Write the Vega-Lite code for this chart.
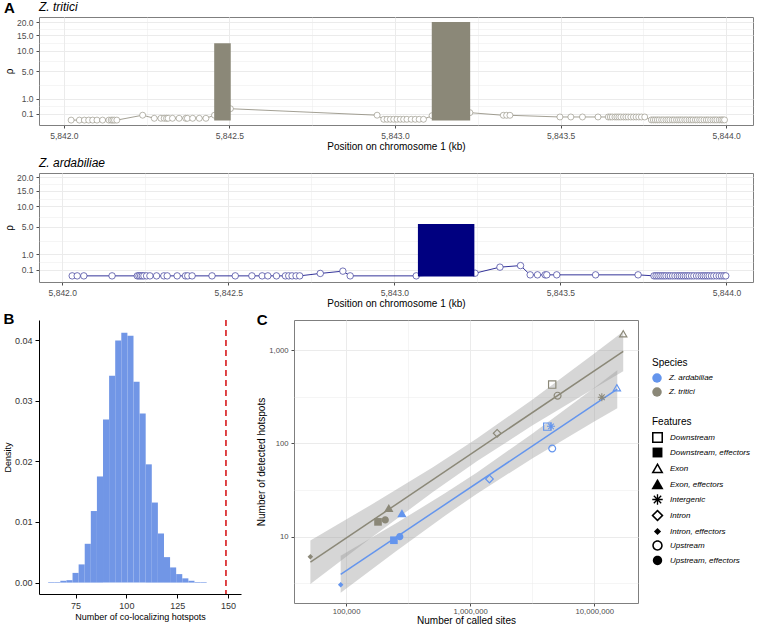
{
  "$schema": "https://vega.github.io/schema/vega-lite/v6.json",
  "padding": {"left": 3, "top": 0, "right": 0, "bottom": 0},
  "autosize": {"type": "pad"},
  "config": {
    "font": "Liberation Sans",
    "view": {"stroke": "#7f7f7f", "strokeWidth": 1},
    "axis": {"labelFontSize": 8.5, "labelColor": "#4d4d4d", "titleFontSize": 10, "titleFontWeight": "normal", "titleColor": "#000000", "tickColor": "#4d4d4d", "tickSize": 3, "domain": false, "gridColor": "#ebebeb", "labelPadding": 3, "titlePadding": 2, "labelFlush": false, "labelOverlap": false},
    "title": {"fontSize": 12, "fontWeight": "normal", "anchor": "start", "color": "#000000"},
    "legend": {"titleFontSize": 10, "titleFontWeight": "normal", "titleColor": "#000000", "labelFontSize": 8, "labelFontStyle": "italic", "labelColor": "#000000", "rowPadding": 4, "titlePadding": 5, "labelOffset": 7, "symbolStrokeWidth": 0, "offset": 14, "layout": {"right": {"anchor": "middle", "direction": "vertical", "margin": 20}}}
  },
  "resolve": {"legend": {"color": "independent", "shape": "independent"}, "scale": {"color": "independent", "shape": "independent"}},
  "datasets": {
    "a1pts": [
      {"pos": 5842.022, "rho": 0.0005}, {"pos": 5842.047, "rho": 0.0005}, {"pos": 5842.062, "rho": 0.0005}, {"pos": 5842.075, "rho": 0.0005}, {"pos": 5842.087, "rho": 0.0005}, {"pos": 5842.100, "rho": 0.0005}, {"pos": 5842.117, "rho": 0.0005}, {"pos": 5842.136, "rho": 0.0005}, {"pos": 5842.143, "rho": 0.0005}, {"pos": 5842.148, "rho": 0.0005}, {"pos": 5842.153, "rho": 0.0005}, {"pos": 5842.160, "rho": 0.0005},
      {"pos": 5842.238, "rho": 0.06},
      {"pos": 5842.273, "rho": 0.011}, {"pos": 5842.293, "rho": 0.011}, {"pos": 5842.303, "rho": 0.011}, {"pos": 5842.310, "rho": 0.011}, {"pos": 5842.315, "rho": 0.011}, {"pos": 5842.328, "rho": 0.011}, {"pos": 5842.348, "rho": 0.011}, {"pos": 5842.368, "rho": 0.011}, {"pos": 5842.373, "rho": 0.011}, {"pos": 5842.389, "rho": 0.011}, {"pos": 5842.409, "rho": 0.011}, {"pos": 5842.429, "rho": 0.011},
      {"pos": 5842.455, "rho": 0.06}, {"pos": 5842.503, "rho": 0.29}, {"pos": 5842.946, "rho": 0.06},
      {"pos": 5842.966, "rho": 0.0035}, {"pos": 5842.976, "rho": 0.0035}, {"pos": 5842.986, "rho": 0.0035}, {"pos": 5842.996, "rho": 0.0035}, {"pos": 5843.006, "rho": 0.0035}, {"pos": 5843.016, "rho": 0.0035}, {"pos": 5843.026, "rho": 0.0035}, {"pos": 5843.036, "rho": 0.0035}, {"pos": 5843.049, "rho": 0.0035}, {"pos": 5843.061, "rho": 0.0035}, {"pos": 5843.073, "rho": 0.0035}, {"pos": 5843.086, "rho": 0.0035},
      {"pos": 5843.112, "rho": 0.05}, {"pos": 5843.226, "rho": 0.13},
      {"pos": 5843.327, "rho": 0.058}, {"pos": 5843.337, "rho": 0.058}, {"pos": 5843.347, "rho": 0.058},
      {"pos": 5843.498, "rho": 0.027}, {"pos": 5843.531, "rho": 0.027}, {"pos": 5843.566, "rho": 0.027}, {"pos": 5843.613, "rho": 0.027},
      {"pos": 5843.644, "rho": 0.027}, {"pos": 5843.650, "rho": 0.027}, {"pos": 5843.656, "rho": 0.027}, {"pos": 5843.664, "rho": 0.027}, {"pos": 5843.670, "rho": 0.027}, {"pos": 5843.676, "rho": 0.027}, {"pos": 5843.682, "rho": 0.027}, {"pos": 5843.690, "rho": 0.027}, {"pos": 5843.697, "rho": 0.027}, {"pos": 5843.704, "rho": 0.027}, {"pos": 5843.712, "rho": 0.027}, {"pos": 5843.720, "rho": 0.027}, {"pos": 5843.728, "rho": 0.027}, {"pos": 5843.736, "rho": 0.027}, {"pos": 5843.744, "rho": 0.027}, {"pos": 5843.754, "rho": 0.027},
      {"pos": 5843.774, "rho": 0.001}, {"pos": 5843.780, "rho": 0.001}, {"pos": 5843.786, "rho": 0.001}, {"pos": 5843.792, "rho": 0.001}, {"pos": 5843.798, "rho": 0.001}, {"pos": 5843.805, "rho": 0.001}, {"pos": 5843.811, "rho": 0.001}, {"pos": 5843.818, "rho": 0.001}, {"pos": 5843.824, "rho": 0.001}, {"pos": 5843.830, "rho": 0.001}, {"pos": 5843.837, "rho": 0.001}, {"pos": 5843.843, "rho": 0.001}, {"pos": 5843.850, "rho": 0.001}, {"pos": 5843.856, "rho": 0.001}, {"pos": 5843.862, "rho": 0.001}, {"pos": 5843.868, "rho": 0.001}, {"pos": 5843.875, "rho": 0.001}, {"pos": 5843.881, "rho": 0.001}, {"pos": 5843.888, "rho": 0.001}, {"pos": 5843.894, "rho": 0.001}, {"pos": 5843.900, "rho": 0.001}, {"pos": 5843.907, "rho": 0.001}, {"pos": 5843.913, "rho": 0.001}, {"pos": 5843.920, "rho": 0.001}, {"pos": 5843.926, "rho": 0.001}, {"pos": 5843.933, "rho": 0.001}, {"pos": 5843.940, "rho": 0.001}, {"pos": 5843.946, "rho": 0.001}, {"pos": 5843.953, "rho": 0.001}, {"pos": 5843.960, "rho": 0.001}, {"pos": 5843.966, "rho": 0.001}, {"pos": 5843.972, "rho": 0.001}, {"pos": 5843.979, "rho": 0.001}, {"pos": 5843.985, "rho": 0.001}, {"pos": 5843.990, "rho": 0.001}, {"pos": 5843.995, "rho": 0.001}
    ],
    "a1bars": [
      {"pos": 5842.454, "pos_end": 5842.504, "rho": 12.3},
      {"pos": 5843.111, "pos_end": 5843.227, "rho": 20.0}
    ],
    "a2pts": [
      {"pos": 5842.030, "rho": 0.001}, {"pos": 5842.045, "rho": 0.001}, {"pos": 5842.065, "rho": 0.001}, {"pos": 5842.150, "rho": 0.001}, {"pos": 5842.226, "rho": 0.001}, {"pos": 5842.231, "rho": 0.001}, {"pos": 5842.236, "rho": 0.001}, {"pos": 5842.241, "rho": 0.001}, {"pos": 5842.246, "rho": 0.001}, {"pos": 5842.254, "rho": 0.001}, {"pos": 5842.264, "rho": 0.001}, {"pos": 5842.284, "rho": 0.001}, {"pos": 5842.306, "rho": 0.001}, {"pos": 5842.316, "rho": 0.001}, {"pos": 5842.346, "rho": 0.001}, {"pos": 5842.371, "rho": 0.001}, {"pos": 5842.378, "rho": 0.001}, {"pos": 5842.391, "rho": 0.001}, {"pos": 5842.451, "rho": 0.001}, {"pos": 5842.521, "rho": 0.001}, {"pos": 5842.571, "rho": 0.001}, {"pos": 5842.602, "rho": 0.001}, {"pos": 5842.619, "rho": 0.001}, {"pos": 5842.645, "rho": 0.001}, {"pos": 5842.672, "rho": 0.001}, {"pos": 5842.682, "rho": 0.001}, {"pos": 5842.692, "rho": 0.001}, {"pos": 5842.704, "rho": 0.001}, {"pos": 5842.715, "rho": 0.001},
      {"pos": 5842.777, "rho": 0.02}, {"pos": 5842.845, "rho": 0.06}, {"pos": 5842.867, "rho": 0.001},
      {"pos": 5843.066, "rho": 0.001}, {"pos": 5843.243, "rho": 0.023}, {"pos": 5843.318, "rho": 0.18}, {"pos": 5843.380, "rho": 0.245},
      {"pos": 5843.409, "rho": 0.006}, {"pos": 5843.431, "rho": 0.006}, {"pos": 5843.454, "rho": 0.006}, {"pos": 5843.459, "rho": 0.006}, {"pos": 5843.489, "rho": 0.006}, {"pos": 5843.606, "rho": 0.006}, {"pos": 5843.734, "rho": 0.006},
      {"pos": 5843.782, "rho": 0.001}, {"pos": 5843.788, "rho": 0.001}, {"pos": 5843.794, "rho": 0.001}, {"pos": 5843.800, "rho": 0.001}, {"pos": 5843.806, "rho": 0.001}, {"pos": 5843.812, "rho": 0.001}, {"pos": 5843.818, "rho": 0.001}, {"pos": 5843.825, "rho": 0.001}, {"pos": 5843.831, "rho": 0.001}, {"pos": 5843.838, "rho": 0.001}, {"pos": 5843.845, "rho": 0.001}, {"pos": 5843.852, "rho": 0.001}, {"pos": 5843.858, "rho": 0.001}, {"pos": 5843.864, "rho": 0.001}, {"pos": 5843.870, "rho": 0.001}, {"pos": 5843.876, "rho": 0.001}, {"pos": 5843.882, "rho": 0.001}, {"pos": 5843.888, "rho": 0.001}, {"pos": 5843.895, "rho": 0.001}, {"pos": 5843.902, "rho": 0.001}, {"pos": 5843.910, "rho": 0.001}, {"pos": 5843.917, "rho": 0.001}, {"pos": 5843.924, "rho": 0.001}, {"pos": 5843.930, "rho": 0.001}, {"pos": 5843.936, "rho": 0.001}, {"pos": 5843.942, "rho": 0.001}, {"pos": 5843.948, "rho": 0.001}, {"pos": 5843.955, "rho": 0.001}, {"pos": 5843.962, "rho": 0.001}, {"pos": 5843.970, "rho": 0.001}, {"pos": 5843.978, "rho": 0.001}, {"pos": 5843.985, "rho": 0.001}, {"pos": 5843.992, "rho": 0.001}, {"pos": 5843.998, "rho": 0.001}
    ],
    "a2bars": [
      {"pos": 5843.071, "pos_end": 5843.241, "rho": 5.6}
    ],
    "hist": [
      {"lower": 61.5, "upper": 64.5, "density": 0.0001}, {"lower": 64.5, "upper": 67.5, "density": 0.0001}, {"lower": 67.5, "upper": 70.5, "density": 0.0003}, {"lower": 70.5, "upper": 73.5, "density": 0.0004}, {"lower": 73.5, "upper": 76.5, "density": 0.0016}, {"lower": 76.5, "upper": 79.5, "density": 0.0030}, {"lower": 79.5, "upper": 82.5, "density": 0.0064}, {"lower": 82.5, "upper": 85.5, "density": 0.0118}, {"lower": 85.5, "upper": 88.5, "density": 0.0175}, {"lower": 88.5, "upper": 91.5, "density": 0.0269}, {"lower": 91.5, "upper": 94.5, "density": 0.0341}, {"lower": 94.5, "upper": 97.5, "density": 0.0399}, {"lower": 97.5, "upper": 100.5, "density": 0.0412}, {"lower": 100.5, "upper": 103.5, "density": 0.0407}, {"lower": 103.5, "upper": 106.5, "density": 0.0331}, {"lower": 106.5, "upper": 109.5, "density": 0.0279}, {"lower": 109.5, "upper": 112.5, "density": 0.0195}, {"lower": 112.5, "upper": 115.5, "density": 0.0132}, {"lower": 115.5, "upper": 118.5, "density": 0.0081}, {"lower": 118.5, "upper": 121.5, "density": 0.0042}, {"lower": 121.5, "upper": 124.5, "density": 0.0025}, {"lower": 124.5, "upper": 127.5, "density": 0.0014}, {"lower": 127.5, "upper": 130.5, "density": 0.0007}, {"lower": 130.5, "upper": 133.5, "density": 0.0003}, {"lower": 133.5, "upper": 136.5, "density": 0.0001}, {"lower": 136.5, "upper": 139.5, "density": 0.0001}
    ],
    "observed": [{"lower": 149}],
    "cpts": [
      {"species": "Z. tritici", "feature": "Intron, effectors", "sites": 51600, "hotspots": 6.1},
      {"species": "Z. tritici", "feature": "Downstream, effectors", "sites": 181000, "hotspots": 14.4},
      {"species": "Z. tritici", "feature": "Upstream, effectors", "sites": 207000, "hotspots": 15.1},
      {"species": "Z. tritici", "feature": "Exon, effectors", "sites": 221000, "hotspots": 20.1},
      {"species": "Z. tritici", "feature": "Intron", "sites": 1650000, "hotspots": 128},
      {"species": "Z. tritici", "feature": "Downstream", "sites": 4580000, "hotspots": 426},
      {"species": "Z. tritici", "feature": "Upstream", "sites": 5060000, "hotspots": 324},
      {"species": "Z. tritici", "feature": "Intergenic", "sites": 11500000, "hotspots": 312},
      {"species": "Z. tritici", "feature": "Exon", "sites": 17100000, "hotspots": 1490},
      {"species": "Z. ardabiliae", "feature": "Intron, effectors", "sites": 90600, "hotspots": 3.05},
      {"species": "Z. ardabiliae", "feature": "Downstream, effectors", "sites": 243000, "hotspots": 9.15},
      {"species": "Z. ardabiliae", "feature": "Upstream, effectors", "sites": 271000, "hotspots": 10.0},
      {"species": "Z. ardabiliae", "feature": "Exon, effectors", "sites": 282000, "hotspots": 17.6},
      {"species": "Z. ardabiliae", "feature": "Intron", "sites": 1430000, "hotspots": 41.5},
      {"species": "Z. ardabiliae", "feature": "Downstream", "sites": 4180000, "hotspots": 151},
      {"species": "Z. ardabiliae", "feature": "Intergenic", "sites": 4480000, "hotspots": 152},
      {"species": "Z. ardabiliae", "feature": "Upstream", "sites": 4580000, "hotspots": 88},
      {"species": "Z. ardabiliae", "feature": "Exon", "sites": 15200000, "hotspots": 393}
    ],
    "fit_tritici": [
      {"species": "Z. tritici", "sites": 51640, "hotspots": 5.32},
      {"species": "Z. tritici", "sites": 17100000, "hotspots": 968}
    ],
    "fit_ardabiliae": [
      {"species": "Z. ardabiliae", "sites": 90570, "hotspots": 3.95},
      {"species": "Z. ardabiliae", "sites": 15310000, "hotspots": 380}
    ],
    "cbands": [
      {"species": "Z. tritici", "sites": 51640, "hotspots": 3.10, "upper": 9.12},
      {"species": "Z. tritici", "sites": 158500, "hotspots": 9.69, "upper": 21.85},
      {"species": "Z. tritici", "sites": 501200, "hotspots": 30.0, "upper": 55.5},
      {"species": "Z. tritici", "sites": 1140000, "hotspots": 64.5, "upper": 113.4},
      {"species": "Z. tritici", "sites": 3162000, "hotspots": 154.9, "upper": 293.8},
      {"species": "Z. tritici", "sites": 10000000, "hotspots": 390, "upper": 918},
      {"species": "Z. tritici", "sites": 17100000, "hotspots": 593, "upper": 1581},
      {"species": "Z. ardabiliae", "sites": 90570, "hotspots": 2.50, "upper": 6.24},
      {"species": "Z. ardabiliae", "sites": 251200, "hotspots": 6.94, "upper": 13.82},
      {"species": "Z. ardabiliae", "sites": 631000, "hotspots": 16.87, "upper": 29.3},
      {"species": "Z. ardabiliae", "sites": 1127000, "hotspots": 28.7, "upper": 48.5},
      {"species": "Z. ardabiliae", "sites": 3162000, "hotspots": 68.9, "upper": 126.5},
      {"species": "Z. ardabiliae", "sites": 10000000, "hotspots": 171.4, "upper": 394.5},
      {"species": "Z. ardabiliae", "sites": 15310000, "hotspots": 238.2, "upper": 606.7}
    ]
  },
  "spacing": 3,
  "vconcat": [
    {
      "title": {"text": "A", "fontSize": 15, "fontWeight": "bold", "anchor": "start", "frame": "bounds", "offset": 0, "dy": 15},
      "spacing": 4,
      "vconcat": [
        {
          "width": 714, "height": 108,
          "title": {"text": "Z. tritici", "fontStyle": "italic", "fontSize": 12, "anchor": "start", "frame": "group", "offset": 3},
          "encoding": {
            "x": {"field": "pos", "type": "quantitative", "scale": {"domain": [5841.925, 5844.081], "nice": false, "zero": false},
              "axis": {"title": "Position on chromosome 1 (kb)", "grid": true, "values": [5842, 5842.25, 5842.5, 5842.75, 5843, 5843.25, 5843.5, 5843.75, 5844], "labelExpr": "(datum.value*2)%1 == 0 ? format(datum.value, ',.1f') : ''", "tickOpacity": {"condition": {"test": "(datum.value*2)%1 != 0", "value": 0}, "value": 1}, "gridWidth": {"condition": {"test": "(datum.value*2)%1 != 0", "value": 0.5}, "value": 1}}},
            "y": {"field": "rho", "type": "quantitative", "scale": {"type": "sqrt", "domain": [-0.04, 22.1], "nice": false, "zero": false},
              "axis": {"title": "ρ", "grid": true, "values": [0.1, 0.433, 1, 2.618, 5, 7.29, 10, 12.37, 15, 17.4, 20], "labelExpr": "indexof([0.1,1,5,10,15,20], datum.value) >= 0 ? format(datum.value, '.1f') : ''", "tickOpacity": {"condition": {"test": "indexof([0.1,1,5,10,15,20], datum.value) < 0", "value": 0}, "value": 1}, "gridWidth": {"condition": {"test": "indexof([0.1,1,5,10,15,20], datum.value) < 0", "value": 0.5}, "value": 1}}}
          },
          "layer": [
            {"data": {"name": "a1pts"}, "mark": {"type": "line", "color": "#8B8878", "strokeWidth": 0.8}},
            {"data": {"name": "a1pts"}, "mark": {"type": "point", "shape": "circle", "filled": true, "fill": "#ffffff", "stroke": "#8B8878", "strokeWidth": 0.6, "size": 36, "opacity": 1}},
            {"data": {"name": "a1bars"}, "mark": {"type": "rect", "color": "#8B8878"}, "encoding": {"x2": {"field": "pos_end"}, "y2": {"datum": 0}}}
          ]
        },
        {
          "width": 714, "height": 109,
          "title": {"text": "Z. ardabiliae", "fontStyle": "italic", "fontSize": 12, "anchor": "start", "frame": "group", "offset": 3},
          "encoding": {
            "x": {"field": "pos", "type": "quantitative", "scale": {"domain": [5841.93, 5844.08], "nice": false, "zero": false},
              "axis": {"title": "Position on chromosome 1 (kb)", "grid": true, "values": [5842, 5842.25, 5842.5, 5842.75, 5843, 5843.25, 5843.5, 5843.75, 5844], "labelExpr": "(datum.value*2)%1 == 0 ? format(datum.value, ',.1f') : ''", "tickOpacity": {"condition": {"test": "(datum.value*2)%1 != 0", "value": 0}, "value": 1}, "gridWidth": {"condition": {"test": "(datum.value*2)%1 != 0", "value": 0.5}, "value": 1}}},
            "y": {"field": "rho", "type": "quantitative", "scale": {"type": "sqrt", "domain": [-0.06, 21.8], "nice": false, "zero": false},
              "axis": {"title": "ρ", "grid": true, "values": [0.1, 0.433, 1, 2.618, 5, 7.29, 10, 12.37, 15, 17.4, 20], "labelExpr": "indexof([0.1,1,5,10,15,20], datum.value) >= 0 ? format(datum.value, '.1f') : ''", "tickOpacity": {"condition": {"test": "indexof([0.1,1,5,10,15,20], datum.value) < 0", "value": 0}, "value": 1}, "gridWidth": {"condition": {"test": "indexof([0.1,1,5,10,15,20], datum.value) < 0", "value": 0.5}, "value": 1}}}
          },
          "layer": [
            {"data": {"name": "a2pts"}, "mark": {"type": "line", "color": "#000080", "strokeWidth": 0.8}},
            {"data": {"name": "a2pts"}, "mark": {"type": "point", "shape": "circle", "filled": true, "fill": "#ffffff", "stroke": "#3a3a9a", "strokeWidth": 0.7, "size": 42, "opacity": 1}},
            {"data": {"name": "a2bars"}, "mark": {"type": "rect", "color": "#000080"}, "encoding": {"x2": {"field": "pos_end"}, "y2": {"datum": 0}}}
          ]
        }
      ]
    },
    {
      "spacing": 15,
      "resolve": {"legend": {"color": "independent", "shape": "independent"}, "scale": {"color": "independent", "shape": "independent"}},
      "hconcat": [
        {
          "width": 202, "height": 274,
          "title": {"text": "B", "fontSize": 15, "fontWeight": "bold", "anchor": "start", "frame": "bounds", "offset": 0, "dy": 8},
          "view": {"stroke": null},
          "layer": [
            {"data": {"name": "hist"}, "mark": {"type": "rect", "color": "#7196E6"},
              "encoding": {
                "x": {"field": "lower", "type": "quantitative", "scale": {"domain": [57, 156.4], "nice": false, "zero": false},
                  "axis": {"title": "Number of co-localizing hotspots", "values": [75, 100, 125, 150], "grid": false, "domain": true, "domainColor": "#000000", "tickColor": "#000000", "tickSize": 4, "labelColor": "#333333", "labelFontSize": 9, "titleFontSize": 9}},
                "x2": {"field": "upper"},
                "y": {"field": "density", "type": "quantitative", "scale": {"domain": [-0.00188, 0.0433], "nice": false, "zero": false},
                  "axis": {"title": "Density", "values": [0, 0.01, 0.02, 0.03, 0.04], "format": ".2f", "grid": false, "domain": true, "domainColor": "#000000", "tickColor": "#000000", "tickSize": 4, "labelColor": "#333333", "labelFontSize": 9, "titleFontSize": 9}},
                "y2": {"datum": 0}
              }},
            {"data": {"name": "observed"}, "mark": {"type": "rule", "color": "#D7191C", "strokeDash": [6, 4], "strokeWidth": 1.6},
              "encoding": {
                "x": {"field": "lower", "type": "quantitative", "scale": {"domain": [57, 156.4], "nice": false, "zero": false},
                  "axis": {"title": "Number of co-localizing hotspots", "values": [75, 100, 125, 150], "grid": false, "domain": true, "domainColor": "#000000", "tickColor": "#000000", "tickSize": 4, "labelColor": "#333333", "labelFontSize": 9, "titleFontSize": 9}}
              }}
          ]
        },
        {
          "width": 344, "height": 283,
          "title": {"text": "C", "fontSize": 15, "fontWeight": "bold", "anchor": "start", "frame": "bounds", "offset": 0, "dy": 8},
          "encoding": {
            "x": {"field": "sites", "type": "quantitative", "scale": {"type": "log", "domain": [38100, 22490000], "nice": false},
              "axis": {"title": "Number of called sites", "grid": true, "labelFontSize": 7.7, "labelPadding": 1, "titlePadding": 1, "values": [100000, 316228, 1000000, 3162278, 10000000], "labelExpr": "indexof([100000,1000000,10000000], datum.value) >= 0 ? format(datum.value, ',') : ''", "tickOpacity": {"condition": {"test": "indexof([100000,1000000,10000000], datum.value) < 0", "value": 0}, "value": 1}, "gridWidth": {"condition": {"test": "indexof([100000,1000000,10000000], datum.value) < 0", "value": 0.5}, "value": 1}}},
            "y": {"field": "hotspots", "type": "quantitative", "scale": {"type": "log", "domain": [1.945, 2097], "nice": false},
              "axis": {"title": "Number of detected hotspots", "grid": true, "labelFontSize": 7.7, "values": [3.1623, 10, 31.623, 100, 316.23, 1000], "labelExpr": "indexof([10,100,1000], datum.value) >= 0 ? format(datum.value, ',') : ''", "tickOpacity": {"condition": {"test": "indexof([10,100,1000], datum.value) < 0", "value": 0}, "value": 1}, "gridWidth": {"condition": {"test": "indexof([10,100,1000], datum.value) < 0", "value": 0.5}, "value": 1}}}
          },
          "layer": [
            {"data": {"name": "cbands"}, "mark": {"type": "area", "color": "#999999", "opacity": 0.4},
              "encoding": {"y2": {"field": "upper"}, "detail": {"field": "species", "type": "nominal"}}},
            {"data": {"name": "fit_tritici"}, "mark": {"type": "line", "strokeWidth": 1.5, "color": "#8B8878"}},
            {"data": {"name": "fit_ardabiliae"}, "mark": {"type": "line", "strokeWidth": 1.5, "color": "#6495ED"}},
            {"data": {"name": "cpts"}, "mark": {"type": "point", "filled": true, "size": 72, "opacity": 1},
              "encoding": {
                "color": {"field": "species", "type": "nominal", "scale": {"domain": ["Z. ardabiliae", "Z. tritici"], "range": ["#6495ED", "#8B8878"]},
                  "legend": {"title": "Species", "orient": "right", "symbolType": "circle", "symbolSize": 90}},
                "shape": {"field": "feature", "type": "nominal",
                  "scale": {"domain": ["Downstream", "Downstream, effectors", "Exon", "Exon, effectors", "Intergenic", "Intron", "Intron, effectors", "Upstream", "Upstream, effectors"],
                    "range": [
                      "M-1,-1H1V1H-1Z M-0.72,-0.72V0.72H0.72V-0.72Z",
                      "M-0.9,-0.9H0.9V0.9H-0.9Z",
                      "M0,-1.05L1.1,0.85L-1.1,0.85Z M0,-0.49L-0.614,0.57L0.614,0.57Z",
                      "M0,-1.05L1.1,0.85L-1.1,0.85Z",
                      "M-0.95,-0.12H0.95V0.12H-0.95Z M-0.12,-0.95H0.12V0.95H-0.12Z M-0.585,-0.755L0.755,0.585L0.585,0.755L-0.755,-0.585Z M-0.755,0.585L0.585,-0.755L0.755,-0.585L-0.585,0.755Z",
                      "M0,-1.1L1.1,0L0,1.1L-1.1,0Z M0,-0.7L-0.7,0L0,0.7L0.7,0Z",
                      "M0,-0.65L0.65,0L0,0.65L-0.65,0Z",
                      "M-0.95,0A0.95,0.95,0,1,1,0.95,0A0.95,0.95,0,1,1,-0.95,0Z M-0.67,0A0.67,0.67,0,1,0,0.67,0A0.67,0.67,0,1,0,-0.67,0Z",
                      "M-0.85,0A0.85,0.85,0,1,1,0.85,0A0.85,0.85,0,1,1,-0.85,0Z"
                    ]},
                  "legend": {"title": "Features", "orient": "right", "symbolSize": 121, "symbolFillColor": "#000000"}}
              }}
          ]
        }
      ]
    }
  ]
}
